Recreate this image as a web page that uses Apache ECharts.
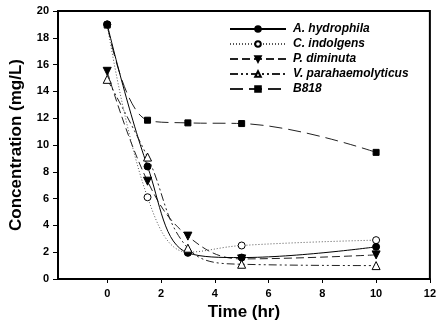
<!DOCTYPE html>
<html><head><meta charset="utf-8">
<script src="https://cdn.jsdelivr.net/npm/echarts@6/dist/echarts.min.js"></script>
<style>html,body{margin:0;padding:0;background:#fff}#c{width:439px;height:334px}</style>
</head><body><div id="c"></div>
<script>
const times = [0, 1.5, 3, 5, 10];
const seriesNames = ['A. hydrophila', 'C. indolgens', 'P. diminuta', 'V. parahaemolyticus', 'B818'];
const aHydrophila = [19.0, 8.4, 1.95, 1.6, 2.4];
const cIndolgens = [19.0, 6.1, 2.0, 2.5, 2.9];
const pDiminuta = [15.5, 7.3, 3.2, 1.5, 1.8];
const vParahaemolyticus = [14.9, 9.1, 2.3, 1.1, 1.0];
const b818 = [18.95, 11.85, 11.65, 11.6, 9.45];
const xTicks = [0, 2, 4, 6, 8, 10, 12];

const values = [aHydrophila, cIndolgens, pDiminuta, vParahaemolyticus, b818];
const styles = [
  {symbol:'circle', size:7, fill:'#000', line:'solid', color:'#000', z:4},
  {symbol:'circle', size:7, fill:'#fff', line:[1,2], color:'#555', z:3},
  {symbol:'triangle', rotate:180, size:8, fill:'#000', line:[8,4], color:'#222', z:2},
  {symbol:'triangle', size:8, fill:'#fff', line:[8,3,2,3,2,3], color:'#222', z:5},
  {symbol:'rect', size:6, fill:'#000', line:[13,6], color:'#222', z:1}
];

const chart = echarts.init(document.getElementById('c'), null, {renderer:'canvas'});
chart.setOption({
  animation:false,
  backgroundColor:'#fff',
  grid:{left:57, top:11, right:8, bottom:55, show:true, borderColor:'#000', borderWidth:2},
  legend:{
    orient:'vertical', left:224, top:18, itemWidth:56, itemHeight:7, itemGap:3,
    textStyle:{fontFamily:'Liberation Sans, Arial', fontSize:12, fontWeight:'bold', fontStyle:'italic', color:'#000', padding:[0,0,0,2]},
    data: seriesNames
  },
  xAxis:{
    type:'value', min:-1.83, max:12,
    name:'Time (hr)', nameLocation:'middle', nameGap:24,
    nameTextStyle:{fontFamily:'Liberation Sans, Arial', fontSize:17, fontWeight:'bold', color:'#000'},
    axisLine:{onZero:false, lineStyle:{color:'#000', width:2}},
    axisTick:{show:true, inside:false, length:4, lineStyle:{color:'#000'}, customValues:xTicks},
    axisLabel:{customValues:xTicks, fontFamily:'Liberation Sans, Arial', fontSize:11, fontWeight:'bold', color:'#000', margin:9},
    splitLine:{show:false}
  },
  yAxis:{
    type:'value', min:0, max:20, interval:2,
    name:'Concentration (mg/L)', nameLocation:'middle', nameGap:33,
    nameTextStyle:{fontFamily:'Liberation Sans, Arial', fontSize:17, fontWeight:'bold', color:'#000'},
    axisLine:{show:true, onZero:false, lineStyle:{color:'#000', width:2}},
    axisTick:{show:true, length:5, lineStyle:{color:'#000'}},
    axisLabel:{fontFamily:'Liberation Sans, Arial', fontSize:11, fontWeight:'bold', color:'#000', margin:9},
    splitLine:{show:false}
  },
  series: seriesNames.map((n,i)=>({
    name:n, type:'line', smooth:0.4, z:styles[i].z,
    data: times.map((t,j)=>[t, values[i][j]]),
    symbol: styles[i].symbol, symbolSize: styles[i].size, symbolRotate: styles[i].rotate||0,
    showAllSymbol:true,
    itemStyle:{color:styles[i].fill, borderColor:'#000', borderWidth:1},
    lineStyle:{color:styles[i].color, width:1, type:styles[i].line}
  }))
});
</script></body></html>
